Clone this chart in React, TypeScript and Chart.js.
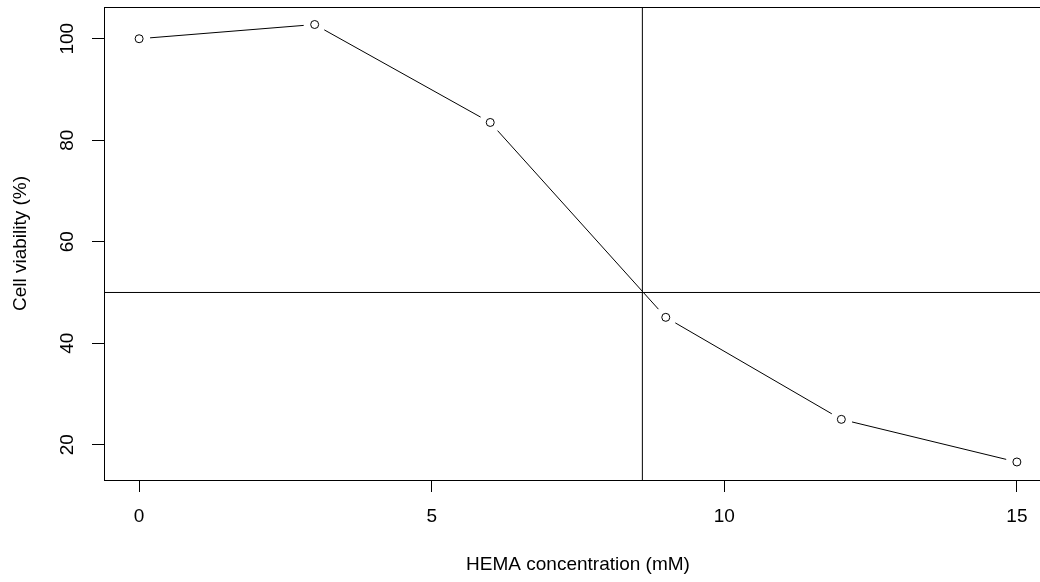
import React, { useEffect, useRef } from "react";
import { Chart, registerables } from "chart.js";

Chart.register(...registerables);

const concentrations = [0, 3, 6, 9, 12, 15];
const viability = [100, 102.8, 83.5, 45.1, 25.0, 16.6];
const xTicks = [0, 5, 10, 15];
const yTicks = [20, 40, 60, 80, 100];
const ic50X = 8.6;
const halfY = 50;
const xTitle = "HEMA concentration (mM)";
const yTitle = "Cell viability (%)";

const FONT = { family: "'Liberation Sans', Arial, sans-serif", size: 19 };

const rPlotPlugin = {
  id: "rplot",
  beforeDatasetsDraw(chart: any) {
    const { ctx, chartArea, scales } = chart;
    const xs = scales.x;
    const ys = scales.y;
    ctx.save();
    ctx.strokeStyle = "#000";
    ctx.lineWidth = 1;
    const vx = xs.getPixelForValue(ic50X);
    const hy = ys.getPixelForValue(halfY);
    ctx.beginPath();
    ctx.moveTo(vx, chartArea.top);
    ctx.lineTo(vx, chartArea.bottom);
    ctx.moveTo(chartArea.left, hy);
    ctx.lineTo(chartArea.right, hy);
    ctx.stroke();
    const meta = chart.getDatasetMeta(0);
    const pts = meta.data;
    const gap = 11;
    ctx.beginPath();
    for (let i = 0; i < pts.length - 1; i++) {
      const a = pts[i];
      const b = pts[i + 1];
      const dx = b.x - a.x;
      const dy = b.y - a.y;
      const len = Math.hypot(dx, dy);
      if (len <= 2 * gap) continue;
      const ux = dx / len;
      const uy = dy / len;
      ctx.moveTo(a.x + ux * gap, a.y + uy * gap);
      ctx.lineTo(b.x - ux * gap, b.y - uy * gap);
    }
    ctx.stroke();
    ctx.restore();
  },
  afterDraw(chart: any) {
    const { ctx, chartArea } = chart;
    ctx.save();
    ctx.strokeStyle = "#000";
    ctx.lineWidth = 1;
    ctx.strokeRect(
      Math.round(chartArea.left) + 0.5,
      Math.round(chartArea.top) + 0.5,
      Math.round(chartArea.right - chartArea.left),
      Math.round(chartArea.bottom - chartArea.top)
    );
    ctx.restore();
  },
};

const zeroPad = (s: any) => {
  s.paddingTop = 0;
  s.paddingBottom = 0;
  s.paddingLeft = 0;
  s.paddingRight = 0;
};

export default function App() {
  const ref = useRef<HTMLCanvasElement | null>(null);
  useEffect(() => {
    if (!ref.current) return;
    const chart = new Chart(ref.current, {
      type: "scatter",
      data: {
        datasets: [
          {
            data: concentrations.map((x, i) => ({ x, y: viability[i] })),
            showLine: false,
            pointRadius: 4,
            pointBorderWidth: 1,
            pointBorderColor: "#000",
            pointBackgroundColor: "#fff",
            pointStyle: "circle",
          },
        ],
      },
      options: {
        animation: false,
        responsive: false,
        devicePixelRatio: 1,
        events: [],
        layout: { padding: { left: 0, top: 7, right: 18, bottom: 0 } },
        plugins: {
          legend: { display: false },
          tooltip: { enabled: false },
          title: { display: false },
        },
        scales: {
          x: {
            type: "linear",
            min: -0.6,
            max: 15.6,
            afterBuildTicks: (s: any) => {
              s.ticks = xTicks.map((v) => ({ value: v }));
            },
            afterFit: (s: any) => {
              s.height = 102;
              zeroPad(s);
            },
            border: { display: false },
            grid: {
              drawOnChartArea: false,
              drawTicks: true,
              tickLength: 12,
              color: "#000",
              lineWidth: 1,
            },
            ticks: {
              color: "#000",
              font: FONT,
              padding: 13,
              maxRotation: 0,
              minRotation: 0,
              callback: (v: any) => String(v),
            },
            title: {
              display: true,
              text: xTitle,
              color: "#000",
              font: FONT,
              padding: { top: 0, bottom: 6 },
            },
          },
          y: {
            type: "linear",
            min: 13.05,
            max: 106.25,
            afterBuildTicks: (s: any) => {
              s.ticks = yTicks.map((v) => ({ value: v }));
            },
            afterFit: (s: any) => {
              s.width = 104;
              zeroPad(s);
            },
            border: { display: false },
            grid: {
              drawOnChartArea: false,
              drawTicks: true,
              tickLength: 12,
              color: "#000",
              lineWidth: 1,
            },
            ticks: {
              color: "#000",
              font: FONT,
              padding: 8,
              minRotation: 90,
              maxRotation: 90,
              crossAlign: "center",
              callback: (v: any) => String(v),
            },
            title: {
              display: true,
              text: yTitle,
              color: "#000",
              font: FONT,
              padding: { top: 9, bottom: 0 },
            },
          },
        },
      },
      plugins: [rPlotPlugin],
    } as any);
    return () => chart.destroy();
  }, []);
  return (
    <div
      style={{
        position: "fixed",
        left: 0,
        top: 0,
        width: 1040,
        height: 582,
        overflow: "hidden",
        background: "#fff",
      }}
    >
      <canvas ref={ref} width={1070} height={582} style={{ display: "block", width: 1070, height: 582 }} />
    </div>
  );
}
